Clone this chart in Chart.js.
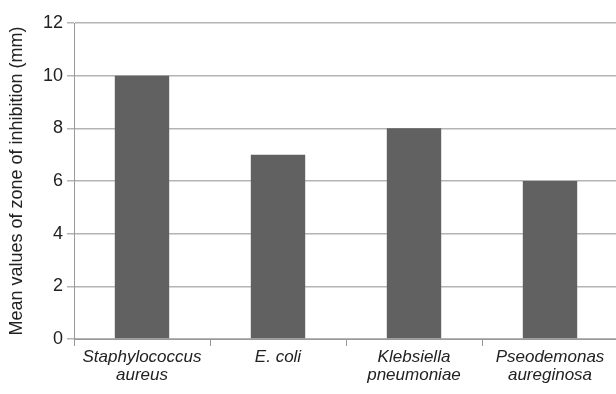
<!DOCTYPE html>
<html>
<head>
<meta charset="utf-8">
<script src="https://cdn.jsdelivr.net/npm/chart.js@4"></script>
<style>
  html, body { margin: 0; padding: 0; background: #fff; overflow: hidden; }
  #wrap { width: 620px; height: 394px; }
</style>
</head>
<body>
<div id="wrap"><canvas id="chart" width="620" height="394"></canvas></div>
<script>
// 데이터
const categories = [
    ["Staphylococcus", "aureus"],
    "E. coli",
    ["Klebsiella", "pneumoniae"],
    ["Pseodemonas", "aureginosa"]
];
const meanValues = [10, 7, 8, 6];
const yTicks = [0, 2, 4, 6, 8, 10, 12];
const yTitle = "Mean values of zone of inhibition (mm)";

const ctx = document.getElementById("chart").getContext("2d");

new Chart(ctx, {
    type: "bar",
    data: {
        labels: categories,
        datasets: [
            {
                data: meanValues,
                backgroundColor: "#616161",
                borderWidth: 0,
                categoryPercentage: 0.4,
                barPercentage: 1.0
            }
        ]
    },
    options: {
        responsive: false,
        animation: false,
        layout: { padding: { left: 0, right: 2, top: 23, bottom: 0 } },
        plugins: {
            legend: { display: false },
            tooltip: { enabled: false }
        },
        scales: {
            x: {
                offset: true,
                afterFit: (scale) => {
                    scale.height = 55;
                },
                grid: {
                    offset: true,
                    drawOnChartArea: false,
                    color: "#999",
                    tickLength: 7
                },
                border: { color: "#999", width: 1 },
                ticks: {
                    color: "#222",
                    padding: 2,
                    maxRotation: 0,
                    font: { family: "Liberation Sans", size: 17, style: "italic", lineHeight: 1.08 }
                }
            },
            y: {
                min: 0,
                max: 12,
                afterBuildTicks: (scale) => {
                    scale.ticks = yTicks.map((v) => ({ value: v }));
                },
                afterFit: (scale) => {
                    scale.width = 74;
                },
                grid: {
                    color: "#b4b4b4",
                    lineWidth: 1.5,
                    tickLength: 7
                },
                border: { color: "#999", width: 1 },
                ticks: {
                    color: "#222",
                    padding: 4,
                    font: { family: "Liberation Sans", size: 18 }
                },
                title: {
                    display: true,
                    text: yTitle,
                    color: "#222",
                    padding: { top: 6, bottom: 0 },
                    font: { family: "Liberation Sans", size: 18 }
                }
            }
        }
    }
});
</script>
</body>
</html>
